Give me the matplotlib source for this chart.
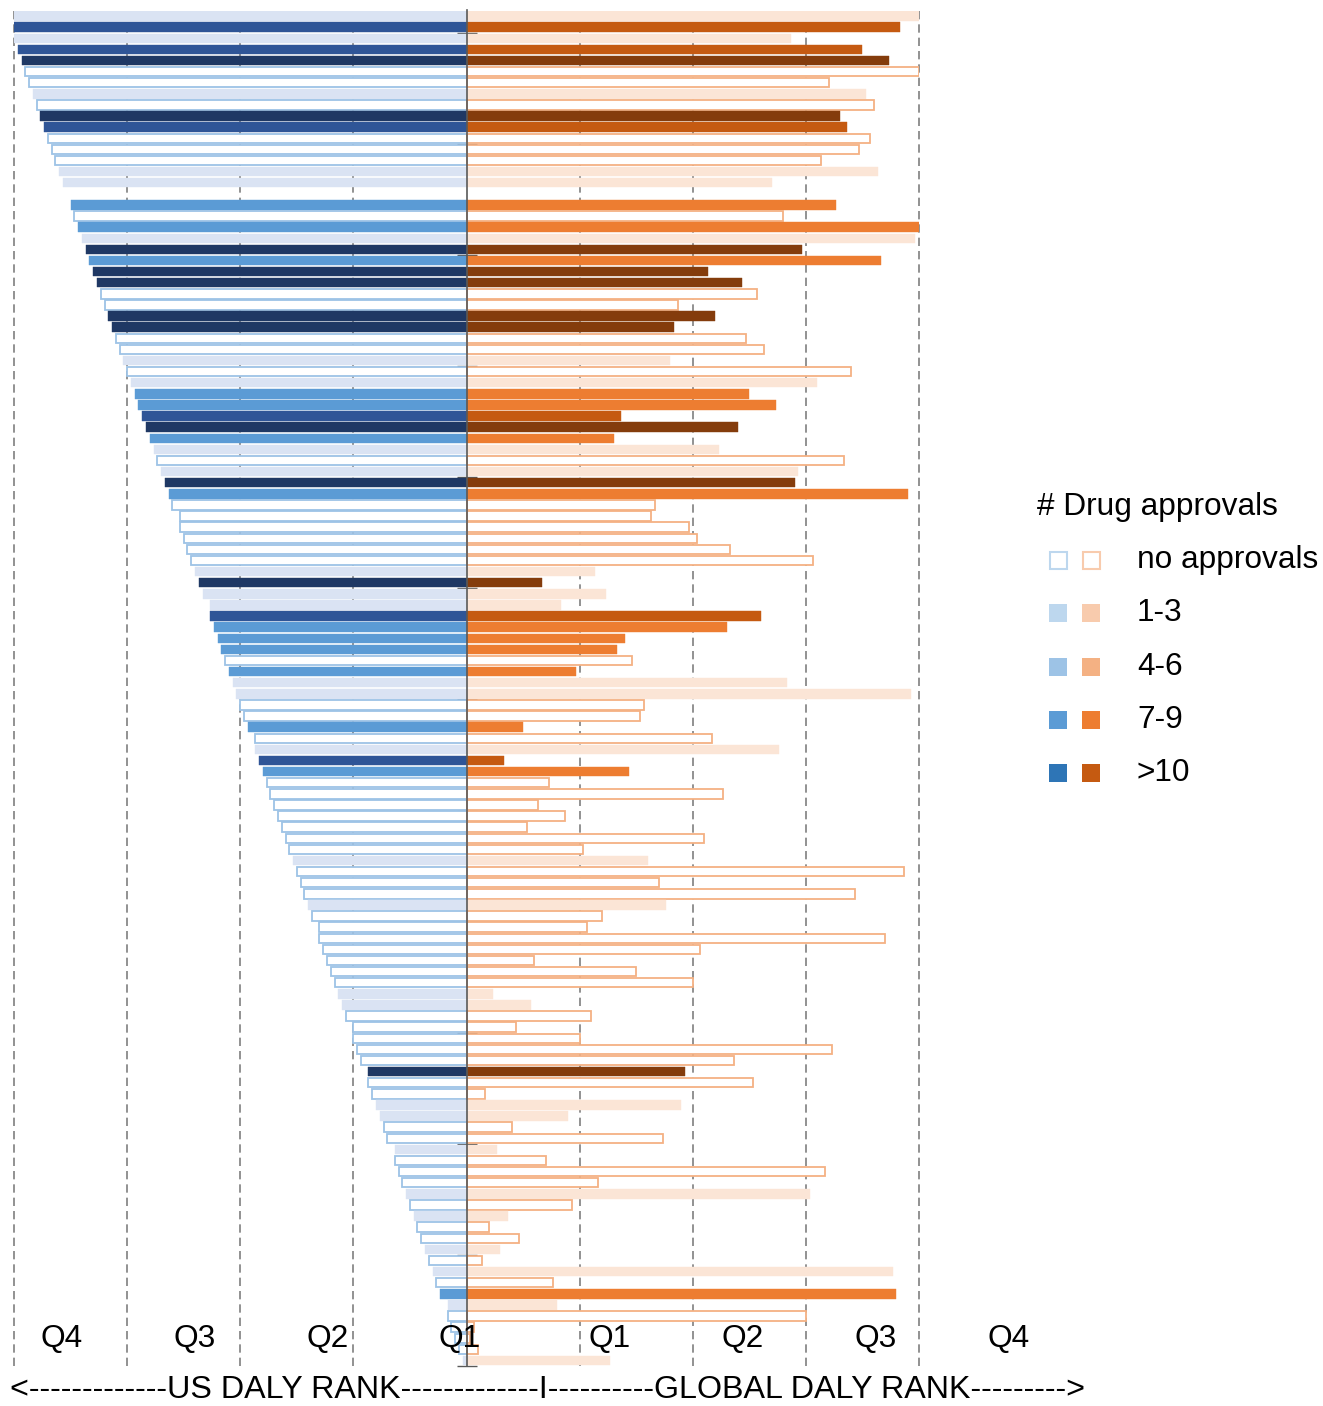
import numpy as np
import matplotlib
matplotlib.use("Agg")
import matplotlib.pyplot as plt
from matplotlib.patches import Rectangle

plt.rcParams['font.family'] = ['Liberation Sans', 'DejaVu Sans']

# approval level per disease row (same on both sides), None = empty row
# 0 none, 1 light, 2 mid, 3 dark, 4 darkest
level = [1, 3, 1, 3, 4, 0, 0, 1, 0, 4, 3, 0, 0, 0, 1, 1, None,
         2, 0, 2, 1, 4, 2, 4, 4, 0, 0, 4, 4, 0, 0, 1, 0, 1, 2, 2, 3,
         4, 2, 1, 0, 1, 4, 2, 0, 0, 0, 0, 0, 0, 1, 4, 1, 1, 3, 2, 2,
         2, 0, 2, 1, 1, 0, 0, 2, 0, 1, 3, 2, 0, 0, 0, 0, 0, 0, 0, 1,
         0, 0, 0, 1, 0, 0, 0, 0, 0, 0, 0, 1, 1, 0, 0, 0, 0, 0, 4, 0,
         0, 1, 1, 0, 0, 1, 0, 0, 0, 1, 0, 1, 0, 0, 1, 0, 1, 0, 2, 1,
         0, 0, 0, 0, 1]

us_rank = [122, 121, 120, 119, 118, 117, 116, 115, 114, 113, 112, 111, 110, 109, 108, 107, None,
           105, 104, 103, 102, 101, 100, 99, 98, 97, 96, 95, 94, 93, 92, 91, 90, 89, 88, 87, 86,
           85, 84, 83, 82, 81, 80, 79, 78, 76, 76, 75, 74, 73, 72, 71, 70, 68, 68, 67, 66,
           65, 64, 63, 62, 61, 60, 59, 58, 56, 56, 55, 54, 53, 52, 51, 50, 49, 48, 47, 46,
           45, 44, 43, 42, 41, 39, 39, 38, 37, 36, 35, 34, 33, 32, 30, 30, 29, 28, 26, 26,
           25, 24, 23, 22, 21, 19, 19, 18, 17, 16, 15, 14, 13, 12, 11, 10, 9, 8, 7, 5,
           5, 4, 3, 2, 1]

global_rank = [121, 115, 86, 105, 112, 120, 96, 106, 108, 99, 101, 107, 104, 94, 109, 81, None,
               98, 84, 122, 119, 89, 110, 64, 73, 77, 56, 66, 55, 74, 79, 54, 102, 93, 75, 82, 41,
               72, 39, 67, 100, 88, 87, 117, 50, 49, 59, 61, 70, 92, 34, 20, 37, 25, 78, 69, 42,
               40, 44, 29, 85, 118, 47, 46, 15, 65, 83, 10, 43, 22, 68, 19, 26, 16, 63, 31, 48,
               116, 51, 103, 53, 36, 32, 111, 62, 18, 45, 60, 7, 17, 33, 13, 30, 97, 71, 58, 76,
               5, 57, 27, 12, 52, 8, 21, 95, 35, 91, 28, 11, 6, 14, 9, 4, 113, 23, 114, 24,
               90, 2, 1, 3, 38]

legend_labels = ['no approvals', '1-3', '4-6', '7-9', '>10']
q_labels = ['Q4', 'Q3', 'Q2', 'Q1', 'Q1', 'Q2', 'Q3', 'Q4']
n_max = 120

blue_fill = ['white', '#DAE3F3', '#5B9BD5', '#2F5597', '#1F3864']
orange_fill = ['white', '#FBE5D6', '#ED7D31', '#C55A11', '#843C0C']
blue_edge = '#9DC3E6'
orange_edge = '#F4B183'
leg_blue = ['white', '#BDD7EE', '#9DC3E6', '#5B9BD5', '#2E75B6']
leg_orange = ['white', '#F8CBAD', '#F4B183', '#ED7D31', '#C55A11']

W, H = 1323, 1406
fig = plt.figure(figsize=(W / 100, H / 100), dpi=100)

def fx(px):
    return px / W

def fy(py):
    return 1 - py / H

ax = fig.add_axes([fx(14), fy(1366), (919 - 14) / W, (1366 - 10.5) / H])

fs = 22.8

for i, lv in enumerate(level):
    if lv is None:
        continue
    if lv == 0:
        ax.barh(i, -us_rank[i], height=0.85, color='white', edgecolor=blue_edge, linewidth=1.3, zorder=2)
        ax.barh(i, global_rank[i], height=0.85, color='white', edgecolor=orange_edge, linewidth=1.3, zorder=2)
    else:
        ax.barh(i, -us_rank[i], height=0.85, color=blue_fill[lv], edgecolor=blue_fill[lv], linewidth=0.3, zorder=2)
        ax.barh(i, global_rank[i], height=0.85, color=orange_fill[lv], edgecolor=orange_fill[lv], linewidth=0.3, zorder=2)

ax.set_xlim(-n_max, n_max)
ax.set_ylim(len(level) - 0.5, -0.5)

# quartile gridlines
qt = [-n_max, -0.75 * n_max, -0.5 * n_max, -0.25 * n_max,
      0.25 * n_max, 0.5 * n_max, 0.75 * n_max, n_max]
ax.set_xticks(qt)
ax.set_xticklabels([])
ax.tick_params(axis='x', length=0)
ax.grid(axis='x', color='#7F7F7F', linewidth=1.2, linestyle=(0, (5, 3)))
ax.set_axisbelow(True)
for gl in ax.get_xgridlines():
    gl.set_clip_on(False)

# center axis with cross ticks every 10 rows
for s in ['top', 'right', 'bottom']:
    ax.spines[s].set_visible(False)
ax.spines['left'].set_position(('data', 0))
ax.spines['left'].set_color('#595959')
ax.spines['left'].set_linewidth(1.2)
ax.spines['left'].set_zorder(3)
ax.set_yticks(np.arange(len(level) - 0.5, 0, -10))
ax.set_yticklabels([])
ax.tick_params(axis='y', direction='inout', length=14, width=1.0, colors='#595959')

# quartile labels
q_x = [62, 195, 328, 460, 610, 743, 876, 1009]
for lab, x in zip(q_labels, q_x):
    fig.text(fx(x), fy(1339), lab, ha='center', va='center', fontsize=fs, zorder=5)

fig.text(fx(548), fy(1390),
         '<' + '-' * 13 + 'US DALY RANK' + '-' * 13 + 'I' + '-' * 10 + 'GLOBAL DALY RANK' + '-' * 9 + '>',
         ha='center', va='center', fontsize=23.2)

# legend
fig.text(fx(1037), fy(507), '# Drug approvals', ha='left', va='center', fontsize=fs)
for k, lab in enumerate(legend_labels):
    yc = 560 + 53.25 * k
    if k == 0:
        fig.add_artist(Rectangle((fx(1050), fy(yc + 8.5)), 17 / W, 17 / H, transform=fig.transFigure,
                                 facecolor='white', edgecolor='#BDD7EE', linewidth=1.5))
        fig.add_artist(Rectangle((fx(1083), fy(yc + 8.5)), 17 / W, 17 / H, transform=fig.transFigure,
                                 facecolor='white', edgecolor='#F8CBAD', linewidth=1.5))
    else:
        fig.add_artist(Rectangle((fx(1049), fy(yc + 9)), 18 / W, 18 / H, transform=fig.transFigure,
                                 facecolor=leg_blue[k], edgecolor='none'))
        fig.add_artist(Rectangle((fx(1082), fy(yc + 9)), 18 / W, 18 / H, transform=fig.transFigure,
                                 facecolor=leg_orange[k], edgecolor='none'))
    fig.text(fx(1137), fy(yc), lab, ha='left', va='center', fontsize=fs)

fig.savefig('out.png', dpi=100)
